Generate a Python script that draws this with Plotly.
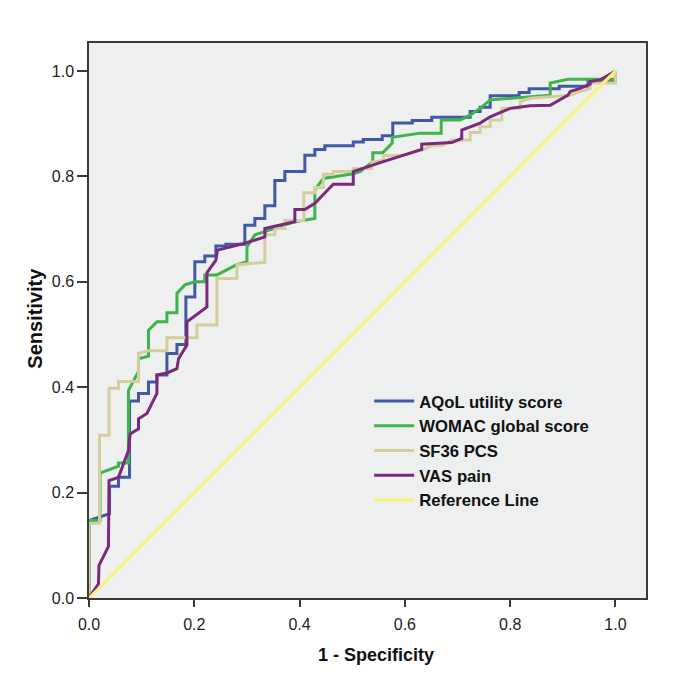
import plotly.graph_objects as go

# ---- data ----
aqol_fpr = [0, 0, 0.039, 0.039, 0.056, 0.056, 0.077, 0.077, 0.094, 0.094, 0.113, 0.113, 0.129, 0.129,
            0.148, 0.148, 0.167, 0.167, 0.184, 0.184, 0.201, 0.201, 0.220, 0.220, 0.241, 0.241, 0.260, 0.260,
            0.296, 0.296, 0.315, 0.315, 0.334, 0.334, 0.353, 0.353, 0.372, 0.372, 0.410, 0.410, 0.429, 0.429,
            0.448, 0.448, 0.502, 0.502, 0.521, 0.521, 0.557, 0.557, 0.577, 0.577, 0.614, 0.614, 0.651, 0.651,
            0.724, 0.724, 0.743, 0.743, 0.762, 0.762, 0.817, 0.817, 0.836, 0.836, 0.893, 0.893, 0.948, 0.948,
            1.0, 1.0]
aqol_tpr = [0, 0.147, 0.160, 0.212, 0.212, 0.229, 0.229, 0.374, 0.374, 0.388, 0.388, 0.410, 0.410, 0.423,
            0.423, 0.464, 0.464, 0.481, 0.481, 0.571, 0.571, 0.638, 0.638, 0.649, 0.649, 0.668, 0.668, 0.671,
            0.671, 0.707, 0.707, 0.720, 0.720, 0.744, 0.744, 0.792, 0.792, 0.809, 0.809, 0.840, 0.840, 0.851,
            0.851, 0.858, 0.858, 0.865, 0.865, 0.870, 0.870, 0.877, 0.877, 0.901, 0.901, 0.906, 0.906, 0.912,
            0.912, 0.923, 0.923, 0.931, 0.931, 0.953, 0.953, 0.959, 0.959, 0.966, 0.966, 0.971, 0.971, 0.982,
            0.982, 1.0]

womac_fpr = [0, 0, 0.021, 0.021, 0.056, 0.056, 0.075, 0.075, 0.094, 0.094, 0.113, 0.113, 0.129, 0.148,
             0.148, 0.167, 0.167, 0.182, 0.201, 0.220, 0.220, 0.243, 0.280, 0.300, 0.300, 0.315, 0.334, 0.391,
             0.429, 0.429, 0.445, 0.464, 0.502, 0.515, 0.539, 0.539, 0.558, 0.576, 0.576, 0.629, 0.669, 0.669,
             0.705, 0.724, 0.743, 0.762, 0.817, 0.876, 0.876, 0.910, 1.0, 1.0]
womac_tpr = [0, 0.147, 0.147, 0.237, 0.250, 0.256, 0.256, 0.394, 0.430, 0.454, 0.459, 0.508, 0.524, 0.524,
             0.541, 0.541, 0.578, 0.594, 0.600, 0.600, 0.613, 0.613, 0.632, 0.638, 0.666, 0.689, 0.695, 0.714,
             0.720, 0.774, 0.796, 0.799, 0.805, 0.809, 0.828, 0.845, 0.845, 0.863, 0.874, 0.882, 0.882, 0.907,
             0.907, 0.916, 0.929, 0.945, 0.950, 0.954, 0.977, 0.984, 0.984, 1.0]

sf36_fpr = [0, 0, 0.020, 0.020, 0.038, 0.038, 0.056, 0.056, 0.094, 0.094, 0.113, 0.148, 0.148, 0.205,
            0.205, 0.243, 0.243, 0.281, 0.281, 0.334, 0.334, 0.353, 0.353, 0.372, 0.372, 0.408, 0.408, 0.429,
            0.429, 0.445, 0.445, 0.464, 0.464, 0.502, 0.502, 0.537, 0.537, 0.559, 0.559, 0.597, 0.635, 0.651,
            0.670, 0.689, 0.724, 0.724, 0.743, 0.743, 0.762, 0.762, 0.784, 0.784, 0.819, 0.819, 0.838, 0.914,
            0.933, 0.952, 0.952, 1.0, 1.0]
sf36_tpr = [0, 0.142, 0.142, 0.309, 0.309, 0.398, 0.398, 0.411, 0.411, 0.464, 0.469, 0.469, 0.494, 0.494,
            0.518, 0.518, 0.606, 0.606, 0.632, 0.637, 0.689, 0.689, 0.701, 0.701, 0.716, 0.716, 0.769, 0.769,
            0.779, 0.779, 0.804, 0.804, 0.809, 0.809, 0.815, 0.815, 0.827, 0.830, 0.839, 0.840, 0.851, 0.858,
            0.858, 0.869, 0.869, 0.883, 0.883, 0.894, 0.894, 0.907, 0.907, 0.929, 0.929, 0.942, 0.948, 0.954,
            0.961, 0.967, 0.977, 0.977, 1.0]

vas_fpr = [0, 0.018, 0.019, 0.037, 0.038, 0.056, 0.075, 0.078, 0.094, 0.094, 0.110, 0.129, 0.129, 0.148,
           0.167, 0.170, 0.186, 0.186, 0.224, 0.224, 0.241, 0.244, 0.296, 0.334, 0.334, 0.391, 0.391, 0.410,
           0.429, 0.464, 0.502, 0.502, 0.553, 0.632, 0.632, 0.689, 0.708, 0.708, 0.743, 0.762, 0.800, 0.838,
           0.876, 0.910, 0.914, 0.933, 0.952, 0.952, 0.971, 0.986, 1.0]
vas_tpr = [0, 0.027, 0.062, 0.098, 0.223, 0.229, 0.280, 0.311, 0.321, 0.340, 0.350, 0.388, 0.423, 0.427,
           0.435, 0.454, 0.480, 0.524, 0.552, 0.617, 0.641, 0.660, 0.673, 0.685, 0.701, 0.714, 0.737, 0.737,
           0.749, 0.785, 0.785, 0.809, 0.826, 0.851, 0.861, 0.864, 0.872, 0.888, 0.901, 0.913, 0.929, 0.934,
           0.935, 0.954, 0.961, 0.967, 0.975, 0.980, 0.983, 0.992, 1.0]

ref_x = [0, 1]
ref_y = [0, 1]

names = ["AQoL utility score", "WOMAC global score", "SF36 PCS", "VAS pain", "Reference Line"]
colors = ["#4158a6", "#3db54b", "#d6cd9d", "#7b297c", "#f8f374"]
xs = [aqol_fpr, womac_fpr, sf36_fpr, vas_fpr, ref_x]
ys = [aqol_tpr, womac_tpr, sf36_tpr, vas_tpr, ref_y]

tick_vals = [0.0, 0.2, 0.4, 0.6, 0.8, 1.0]
tick_text = ["0.0", "0.2", "0.4", "0.6", "0.8", "1.0"]
x_title = "1 - Specificity"
y_title = "Sensitivity"

fig = go.Figure()
for x, y, n, c in zip(xs, ys, names, colors):
    fig.add_trace(go.Scatter(x=x, y=y, mode="lines", name="<b>" + n + "</b>",
                             line=dict(color=c, width=3)))

axis_common = dict(
    showgrid=False, zeroline=False, showline=True, linecolor="#3a3a3a", linewidth=1.5,
    mirror=True, ticks="outside", tickwidth=1.5, tickcolor="#3a3a3a",
    tickvals=tick_vals, ticktext=tick_text, automargin=False,
    tickfont=dict(family="Liberation Sans, Arial", size=16, color="#222"),
)

fig.update_layout(
    width=677, height=677,
    margin=dict(l=81, r=39, t=35, b=87),
    paper_bgcolor="white",
    plot_bgcolor="#eef0f0",
    xaxis=dict(range=[0, 1.058], ticklen=7, ticklabelstandoff=4, **axis_common),
    yaxis=dict(range=[0, 1.053], ticklen=10, **axis_common),
    legend=dict(x=0.503, y=0.386, xanchor="left", yanchor="top", bgcolor="rgba(0,0,0,0)",
                font=dict(family="Liberation Sans, Arial", size=16.7, color="#111"),
                itemwidth=40, tracegroupgap=0),
    showlegend=True,
    annotations=[
        dict(text="<b>" + x_title + "</b>", xref="paper", yref="paper", x=0.515, y=-0.103,
             xanchor="center", yanchor="middle", showarrow=False,
             font=dict(family="Liberation Sans, Arial", size=18, color="#111")),
        dict(text="<b>" + y_title + "</b>", xref="paper", yref="paper", x=-0.097, y=0.505,
             xanchor="center", yanchor="middle", showarrow=False, textangle=-90,
             font=dict(family="Liberation Sans, Arial", size=20, color="#111")),
    ],
)

fig.write_html("out.html")
